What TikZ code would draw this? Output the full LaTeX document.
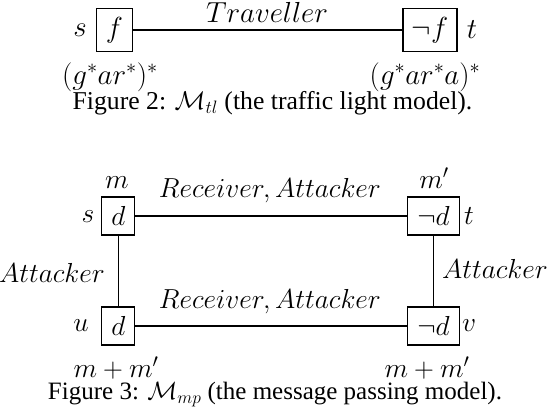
\RequirePackage{fix-cm}
\documentclass[tikz,border=0pt]{standalone}
\usepackage[no-math]{fontspec}
\setmainfont{Liberation Serif}
\begin{document}
\begin{tikzpicture}[x=1pt,y=-1pt,
  box/.style={draw, line width=1.1pt, inner sep=0pt, anchor=center},
  lbl/.style={inner sep=0pt, anchor=center},
  figcap/.style={inner sep=0pt, anchor=base},
  mt/.style={font=\fontsize{29}{34}\selectfont},
  mb/.style={font=\fontsize{27.5}{32}\selectfont},
  edge/.style={line width=1.1pt}]
\useasboundingbox (0,0) rectangle (550,408);
% top model
\node[box, mt, minimum width=36, minimum height=43] (f) at (114.5,30) {$f$};
\node[box, mt, minimum width=54, minimum height=43] (nf) at (430,30) {$\neg f$};
\draw[edge] (f) -- (nf);
\node[lbl, mt, anchor=base] (trav) at (267,22) {$Traveller$};
\node[lbl, mt] (ls) at (80,30) {$s$};
\node[lbl, mt] (lt) at (472,30) {$t$};
\node[lbl, mt] (rs) at (110,77) {$(g^*ar^*)^*$};
\node[lbl, mt] (rt) at (425,77) {$(g^*ar^*a)^*$};
\node[figcap, font=\fontsize{25.7}{30}\selectfont] (cap2) at (272.5,109.5) {Figure 2: $\mathcal{M}_{tl}$ (the traffic light model).};
% bottom model
\node[box, mb, minimum width=33, minimum height=38] (s) at (118.3,216) {$d$};
\node[box, mb, minimum width=52, minimum height=38] (t) at (433.5,216) {$\neg d$};
\node[box, mb, minimum width=33, minimum height=38] (u) at (118.3,326) {$d$};
\node[box, mb, minimum width=52, minimum height=38] (v) at (433.5,326) {$\neg d$};
\draw[edge] (s) -- (t);
\draw[edge] (u) -- (v);
\draw[edge] (s) -- (u);
\draw[edge] (t) -- (v);
\node[lbl, mb, anchor=base] (lm) at (117,188) {$m$};
\node[lbl, mb, anchor=base] (lmp) at (434,188) {$m'$};
\node[lbl, mb] (lbs) at (88,217) {$s$};
\node[lbl, mb] (lbt) at (469,216) {$t$};
\node[lbl, mb] (lbu) at (81,326) {$u$};
\node[lbl, mb] (lbv) at (469,326) {$v$};
\node[lbl, mb] (att1) at (52,273) {$Attacker$};
\node[lbl, mb] (att2) at (495,269) {$Attacker$};
\node[lbl, mb] (ra1) at (270,191) {$Receiver, Attacker$};
\node[lbl, mb] (ra2) at (270,302) {$Receiver, Attacker$};
\node[lbl, mb] (mm1) at (116,368) {$m+m'$};
\node[lbl, mb] (mm2) at (427,368) {$m+m'$};
\node[figcap, font=\fontsize{25}{30}\selectfont] (cap3) at (275,399.5) {Figure 3: $\mathcal{M}_{mp}$ (the message passing model).};
\end{tikzpicture}
\end{document}
